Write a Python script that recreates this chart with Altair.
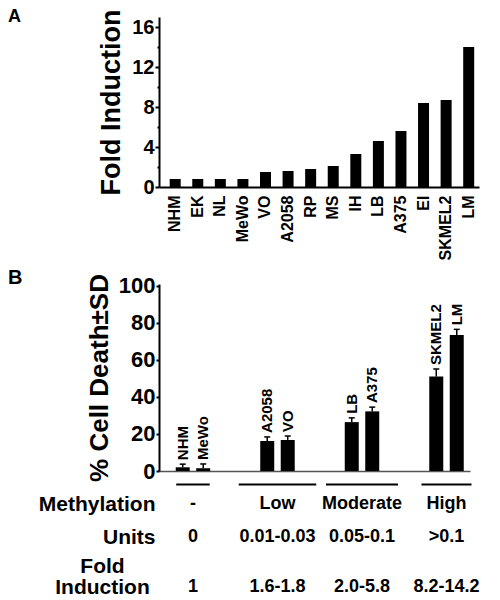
import altair as alt
import pandas as pd

FONT = "Liberation Sans"

# ---- Panel A data ----
a_lines = ["NHM", "EK", "NL", "MeWo", "VO", "A2058", "RP", "MS", "IH", "LB", "A375", "EI", "SKMEL2", "LM"]
a_fold = [0.8, 0.8, 0.8, 0.8, 1.5, 1.6, 1.8, 2.1, 3.3, 4.6, 5.6, 8.4, 8.7, 14.0]

# ---- Panel B data ----
b_lines = ["NHM", "MeWo", "A2058", "VO", "LB", "A375", "SKMEL2", "LM"]
b_group = ["-", "-", "Low", "Low", "Moderate", "Moderate", "High", "High"]
b_death = [2.0, 1.5, 16.2, 16.8, 26.4, 32.2, 51.0, 73.5]
b_sd = [1.7, 2.3, 2.2, 2.1, 2.3, 2.3, 4.1, 3.0]

# ---- Table ----
groups = ["-", "Low", "Moderate", "High"]
units = ["0", "0.01-0.03", "0.05-0.1", ">0.1"]
fold_range = ["1", "1.6-1.8", "2.0-5.8", "8.2-14.2"]
rows = ["Methylation", "Units", "Fold Induction"]

bold = dict(font=FONT, fontWeight="bold", color="black")
ax_common = dict(domainColor="black", domainWidth=2, tickColor="black", tickWidth=2,
                 labelFont=FONT, labelFontWeight="bold", labelColor="black", labelOverlap=False,
                 titleFont=FONT, titleFontWeight="bold", titleColor="black", grid=False)

# ================= Panel A =================
dfa = pd.DataFrame({"line": a_lines, "fold": a_fold})
xa = alt.X("line:N", sort=a_lines, title=None,
           scale=alt.Scale(type="band", domain=a_lines, paddingInner=0.513, paddingOuter=0.343, align=0.69),
           axis=alt.Axis(labelAngle=270, labelFontSize=16, ticks=False, labelPadding=8,
                         labelAlign="right", labelBaseline="middle", **ax_common))
ya = alt.Y("fold:Q", title="Fold Induction",
           scale=alt.Scale(domain=[0, 17], nice=False),
           axis=alt.Axis(values=[0, 2, 4, 6, 8, 10, 12, 14, 16],
                         labelExpr="datum.value % 4 == 0 ? datum.label : ''",
                         tickSize={"condition": {"test": "datum.value % 4 != 0", "value": 2}, "value": 4},
                         labelFontSize=20, labelPadding=1, titleFontSize=27, titlePadding=6,
                         **ax_common))
bars_a = alt.Chart(dfa).mark_bar(color="black").encode(x=xa, y=ya)
letter_a = alt.Chart(pd.DataFrame({"t": ["A"]})).mark_text(
    align="left", baseline="top", fontSize=18, **bold
).encode(x=alt.value(-151), y=alt.value(-9), text="t:N")
panel_a = alt.layer(bars_a, letter_a).properties(width=320, height=170)

# ================= Panel B =================
dfb = pd.DataFrame({"line": b_lines, "group": b_group, "death": b_death, "sd": b_sd})
base_b = alt.Chart(dfb).transform_window(
    slot="row_number()", groupby=["group"]
).transform_calculate(top="datum.death + datum.sd")

grp_scale = dict(type="band", domain=groups, paddingInner=0.592, paddingOuter=0.136, align=0.728)
xb = alt.X("group:N", sort=groups, scale=alt.Scale(**grp_scale),
           axis=alt.Axis(labels=False, ticks=False, title=None, domainColor="#555555", domainWidth=1.5))
xob = alt.XOffset("slot:O", scale=alt.Scale(paddingInner=0.317, paddingOuter=0))
ytitle = "% Cell Death±SD"
yb_axis = alt.Axis(values=[0, 20, 40, 60, 80, 100], tickSize=3, labelFontSize=22, labelPadding=1,
                   titleFontSize=26, titlePadding=6, **ax_common)
yb_scale = alt.Scale(domain=[0, 101], nice=False)


def yb(field):
    return alt.Y(field, title=ytitle, scale=yb_scale, axis=yb_axis)


bars_b = base_b.mark_bar(color="black").encode(x=xb, xOffset=xob, y=yb("death:Q"))
err_b = base_b.mark_rule(color="black", strokeWidth=1.5).encode(
    x=xb, xOffset=xob, y=yb("death:Q"), y2="top:Q")
cap_b = base_b.mark_tick(color="black", opacity=1, orient="horizontal", size=6, thickness=1.5).encode(
    x=xb, xOffset=xob, y=yb("top:Q"))
lab_b = base_b.mark_text(angle=270, align="left", baseline="middle", dx=4, fontSize=15, **bold).encode(
    x=xb, xOffset=xob, y=yb("top:Q"), text="line:N")
letter_b = alt.Chart(pd.DataFrame({"t": ["B"]})).mark_text(
    align="left", baseline="top", fontSize=20, **bold
).encode(x=alt.value(-151), y=alt.value(-16.5), text="t:N")

# group underlines, just below the x axis of panel B
dfu = pd.DataFrame({"group": groups, "units": units})
under = alt.Chart(dfu).transform_calculate(
    w="28 + 5.5 * length(datum.units)", base="0"
).mark_tick(orient="horizontal", thickness=2, yOffset=13.5, color="black", opacity=1).encode(
    x=xb, y=yb("base:Q"), size=alt.Size("w:Q", scale=None, legend=None))

panel_b = alt.layer(bars_b, err_b, cap_b, lab_b, under, letter_b).properties(width=311, height=187)

# ================= Table =================
dft = pd.DataFrame({
    "group": groups * 3,
    "row": [r for r in rows for _ in groups],
    "value": groups + units + fold_range,
})

xt = alt.X("group:N", sort=groups, scale=alt.Scale(**grp_scale), axis=None)
is_fi = "datum.value == 'Fold Induction'"
yt = alt.Y("row:N", sort=rows, title=None,
           scale=alt.Scale(type="point", domain=rows, padding=0),
           axis=alt.Axis(domain=False, ticks=False, tickSize=0,
                         labelFont=FONT, labelFontWeight="bold", labelColor="black", labelFontSize=21,
                         labelExpr="split(datum.label, ' ')", labelLineHeight=21,
                         labelAlign={"condition": {"test": is_fi, "value": "center"}, "value": "right"},
                         labelPadding={"condition": {"test": is_fi, "value": 57}, "value": 4},
                         labelOffset={"condition": {"test": is_fi, "value": -3.5}, "value": 0}))

txt1 = alt.Chart(dft).transform_filter("datum.row != 'Fold Induction'").mark_text(
    fontSize=18, **bold).encode(x=xt, y=yt, text="value:N")
txt2 = alt.Chart(dft).transform_filter("datum.row == 'Fold Induction'").mark_text(
    fontSize=18, dy=17, **bold).encode(x=xt, y=yt, text="value:N")
table = alt.layer(txt1, txt2).properties(width=311, height=66)

chart = alt.vconcat(panel_a, panel_b, table, spacing=7).properties(
    padding=0, background="white"
).configure_view(stroke=None)

chart.save("out.html", embed_options={"renderer": "svg", "actions": False})
